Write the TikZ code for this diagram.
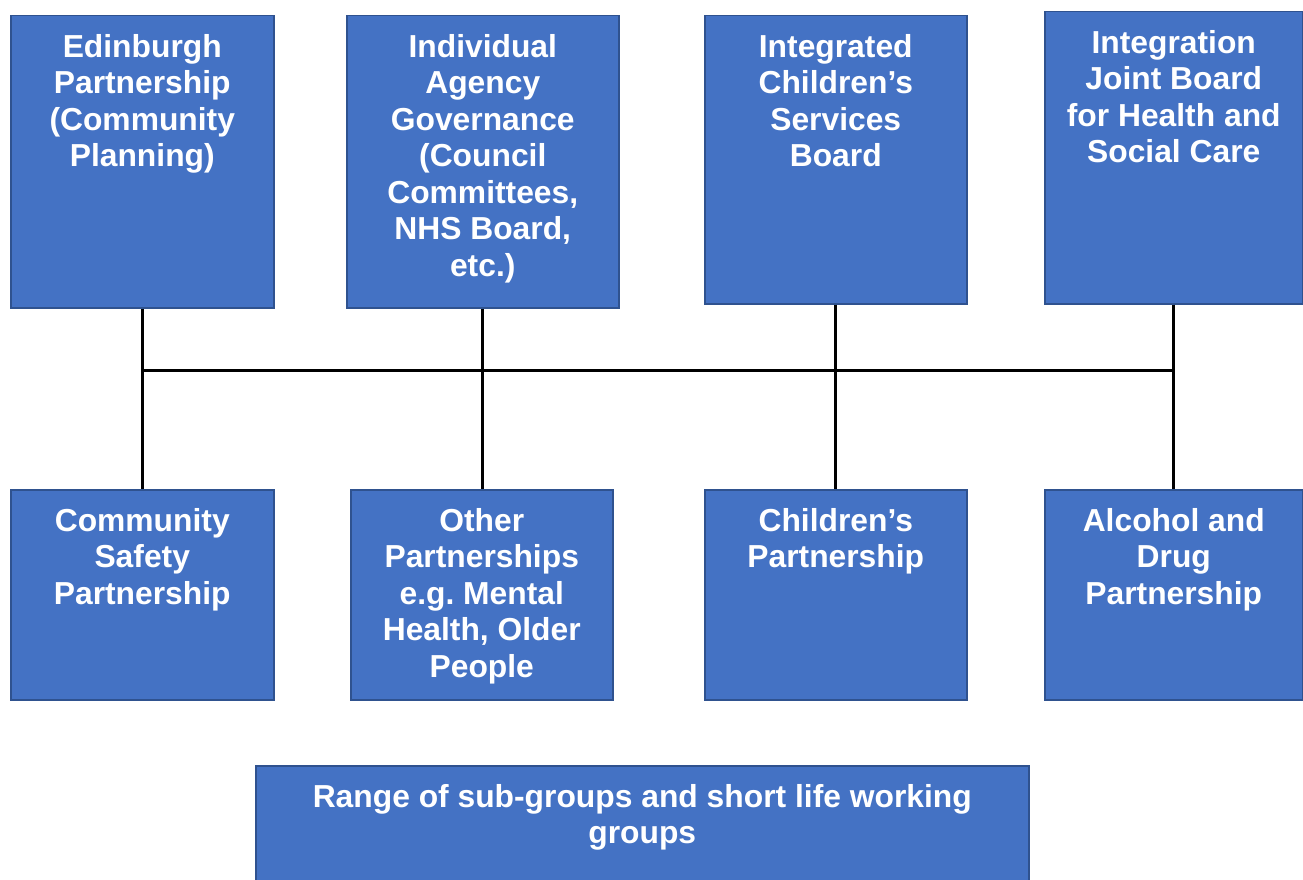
\documentclass[tikz,border=0pt]{standalone}
\usepackage{fontspec}
\setmainfont{Liberation Sans}
\usepackage{xcolor}
\usetikzlibrary{positioning}
\definecolor{boxfill}{HTML}{4472C4}
\definecolor{boxline}{HTML}{2F528F}
\tikzset{
	unit/.style={draw=boxline, line width=1.5pt, fill=boxfill, anchor=north west, inner sep=0pt},
	caption/.style={inner xsep=0pt, inner ysep=19pt, text=white, align=center,
			font=\bfseries\fontsize{31.8}{36.5}\selectfont},
	wire/.style={draw=black, line width=3pt}
}
\frenchspacing

\begin{document}
\begin{tikzpicture}[x=1pt, y=-1pt]
			\useasboundingbox (0,0) rectangle (1303,880);

			% governance boxes
			\node[unit, minimum width=263pt, minimum height=292pt] (edin) at (10,15) {};
			\node[unit, minimum width=272pt, minimum height=292pt] (agency) at (346,15) {};
			\node[unit, minimum width=262pt, minimum height=288pt] (icsb) at (704,15) {};
			\node[unit, minimum width=258pt, minimum height=292pt] (ijb) at (1044,11) {};

			% partnership boxes
			\node[unit, minimum width=263pt, minimum height=210pt] (safety) at (10,489) {};
			\node[unit, minimum width=262pt, minimum height=210pt] (other) at (350,489) {};
			\node[unit, minimum width=262pt, minimum height=210pt] (children) at (704,489) {};
			\node[unit, minimum width=258pt, minimum height=210pt] (adp) at (1044,489) {};

			\node[unit, minimum width=773pt, minimum height=130pt] (subgroups) at (255,765) {};

			\node[caption, below=0pt of edin.north] (edin-t) {Edinburgh\\Partnership\\(Community\\Planning)};
			\node[caption, below=0pt of agency.north] (agency-t) {Individual\\Agency\\Governance\\(Council\\Committees,\\NHS Board,\\etc.)};
			\node[caption, below=0pt of icsb.north] (icsb-t) {Integrated\\Children’s\\Services\\Board};
			\node[caption, below=0pt of ijb.north] (ijb-t) {Integration\\Joint Board\\for Health and\\Social Care};
			\node[caption, below=0pt of safety.north] (safety-t) {Community\\Safety\\Partnership};
			\node[caption, below=0pt of other.north] (other-t) {Other\\Partnerships\\e.g. Mental\\Health, Older\\People};
			\node[caption, below=0pt of children.north] (children-t) {Children’s\\Partnership};
			\node[caption, below=0pt of adp.north] (adp-t) {Alcohol and\\Drug\\Partnership};
			\node[caption, below=0pt of subgroups.north] (subgroups-t) {Range of sub-groups and short life working\\groups};

			% links
			\coordinate (bus) at (0,370);
			\draw[wire] (edin.south |- bus) -- (ijb.south |- bus);
			\draw[wire] (edin.south) -- (safety.north);
			\draw[wire] (agency.south) -- (agency.south |- other.north);
			\draw[wire] (icsb.south) -- (children.north);
			\draw[wire] (ijb.south) -- (adp.north);
		\end{tikzpicture}
\end{document}
